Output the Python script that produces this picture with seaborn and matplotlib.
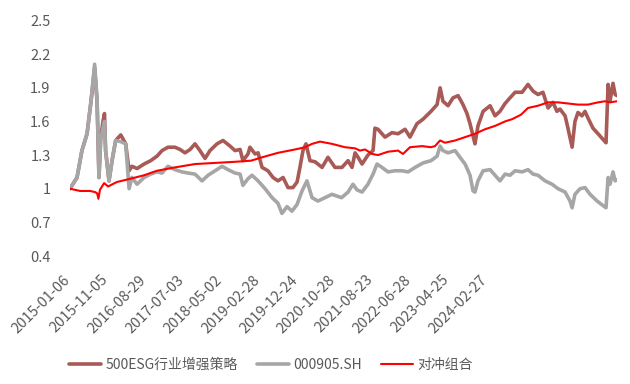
import numpy as np
import pandas as pd
import matplotlib
matplotlib.use("Agg")
import matplotlib.pyplot as plt
import matplotlib.transforms as mtransforms
import seaborn as sns

# trading-day index of each reading, and the net value
esg_day = [0, 37, 63, 90, 111, 130, 143, 153, 162, 174, 182, 188, 206, 222, 241, 268, 294,
           312, 327, 354, 391, 426, 459, 486, 517, 554, 581, 607, 634, 660, 686, 713, 739,
           776, 808, 845, 871, 898, 913, 940, 950, 977, 993, 1014, 1045, 1072, 1098, 1125,
           1151, 1177, 1199, 1214, 1230, 1246, 1267, 1294, 1331, 1362, 1399, 1436, 1468,
           1489, 1505, 1521, 1542, 1573, 1600, 1610, 1626, 1663, 1700, 1732, 1769, 1795,
           1832, 1864, 1906, 1938, 1954, 1969, 1996, 2022, 2049, 2075, 2096, 2112, 2128,
           2138, 2154, 2181, 2218, 2244, 2270, 2297, 2323, 2350, 2387, 2418, 2445, 2471,
           2497, 2524, 2550, 2571, 2587, 2614, 2629, 2651, 2666, 2682, 2703, 2719, 2735,
           2761, 2788, 2814, 2830, 2841, 2851, 2867, 2878, 2888]
esg_val = [1.00, 1.10, 1.34, 1.49, 1.78, 2.08, 1.78, 1.10, 1.45, 1.60, 1.67, 1.34, 1.07,
           1.25, 1.43, 1.48, 1.40, 1.16, 1.20, 1.18, 1.22, 1.25, 1.29, 1.34, 1.37, 1.37,
           1.35, 1.32, 1.35, 1.40, 1.34, 1.27, 1.34, 1.40, 1.43, 1.38, 1.34, 1.35, 1.25,
           1.31, 1.37, 1.31, 1.32, 1.19, 1.16, 1.10, 1.07, 1.10, 1.01, 1.01, 1.06, 1.19,
           1.34, 1.40, 1.25, 1.24, 1.19, 1.28, 1.19, 1.19, 1.25, 1.19, 1.32, 1.28, 1.22,
           1.30, 1.34, 1.54, 1.53, 1.46, 1.50, 1.49, 1.53, 1.46, 1.58, 1.62, 1.69, 1.75,
           1.90, 1.78, 1.74, 1.81, 1.83, 1.75, 1.67, 1.58, 1.47, 1.40, 1.56, 1.69, 1.74,
           1.65, 1.69, 1.76, 1.81, 1.86, 1.86, 1.93, 1.87, 1.84, 1.86, 1.72, 1.77, 1.69,
           1.71, 1.65, 1.54, 1.37, 1.60, 1.68, 1.65, 1.69, 1.63, 1.54, 1.49, 1.44, 1.41,
           1.93, 1.78, 1.94, 1.84, 1.83]

csi_day = [0, 37, 63, 90, 111, 130, 143, 153, 162, 174, 182, 188, 206, 222, 241, 268, 294,
           312, 327, 354, 391, 426, 459, 486, 517, 554, 591, 623, 660, 697, 729, 766, 803,
           834, 871, 898, 913, 940, 961, 993, 1030, 1067, 1098, 1119, 1146, 1172, 1199,
           1225, 1251, 1278, 1309, 1346, 1383, 1434, 1468, 1494, 1515, 1542, 1573, 1600,
           1621, 1647, 1679, 1716, 1753, 1785, 1822, 1864, 1906, 1938, 1954, 1969, 1996,
           2033, 2059, 2086, 2112, 2128, 2138, 2154, 2181, 2218, 2244, 2270, 2297, 2323,
           2350, 2387, 2418, 2445, 2471, 2508, 2545, 2577, 2614, 2640, 2651, 2666, 2693,
           2719, 2746, 2783, 2814, 2830, 2841, 2851, 2867, 2878, 2888]
csi_val = [1.00, 1.10, 1.34, 1.49, 1.78, 2.11, 1.78, 1.10, 1.45, 1.54, 1.60, 1.34, 1.07,
           1.25, 1.43, 1.42, 1.40, 1.00, 1.10, 1.04, 1.10, 1.13, 1.15, 1.14, 1.20, 1.17,
           1.15, 1.14, 1.13, 1.07, 1.12, 1.16, 1.20, 1.17, 1.14, 1.13, 1.03, 1.09, 1.12,
           1.07, 1.00, 0.92, 0.87, 0.78, 0.84, 0.80, 0.86, 0.98, 1.07, 0.92, 0.89, 0.92,
           0.95, 0.92, 0.97, 1.04, 0.99, 0.97, 1.04, 1.13, 1.22, 1.19, 1.15, 1.16, 1.16,
           1.15, 1.19, 1.23, 1.25, 1.29, 1.38, 1.34, 1.32, 1.34, 1.28, 1.22, 1.12, 0.98,
           0.97, 1.07, 1.16, 1.17, 1.12, 1.07, 1.13, 1.12, 1.16, 1.15, 1.17, 1.13, 1.12,
           1.07, 1.04, 1.00, 0.97, 0.89, 0.83, 0.95, 1.00, 1.01, 0.95, 0.89, 0.85, 0.83,
           1.10, 1.04, 1.15, 1.07, 1.08]

hedge_day = [0, 53, 106, 132, 143, 150, 158, 180, 201, 248, 322, 391, 459, 554, 660, 766,
             871, 956, 1014, 1098, 1188, 1241, 1278, 1320, 1383, 1452, 1505, 1531, 1558,
             1595, 1626, 1679, 1732, 1758, 1795, 1859, 1906, 1927, 1954, 1980, 2033, 2086,
             2138, 2191, 2244, 2297, 2334, 2381, 2418, 2471, 2524, 2577, 2629, 2682, 2735,
             2788, 2825, 2851, 2888]
hedge_val = [1.00, 0.98, 0.98, 0.97, 0.96, 0.91, 0.99, 1.05, 1.02, 1.06, 1.09, 1.12, 1.16,
             1.19, 1.22, 1.23, 1.24, 1.25, 1.28, 1.32, 1.35, 1.37, 1.40, 1.42, 1.40, 1.37,
             1.36, 1.34, 1.35, 1.31, 1.30, 1.33, 1.34, 1.31, 1.37, 1.38, 1.37, 1.38, 1.43,
             1.41, 1.43, 1.46, 1.49, 1.53, 1.56, 1.60, 1.62, 1.66, 1.72, 1.74, 1.77, 1.77,
             1.76, 1.75, 1.75, 1.77, 1.78, 1.77, 1.78]

tick_days = [0, 200, 400, 600, 800, 1000, 1200, 1400, 1600, 1800, 2000, 2200]
tick_labels = ["2015-01-06", "2015-11-05", "2016-08-29", "2017-07-03", "2018-05-02",
               "2019-02-28", "2019-12-24", "2020-10-28", "2021-08-23", "2022-06-28",
               "2023-04-25", "2024-02-27"]
y_ticks = [0.4, 0.7, 1.0, 1.3, 1.6, 1.9, 2.2, 2.5]

sns.set_style("white")
plt.rcParams['font.family'] = ['Noto Sans CJK SC', 'DejaVu Sans']

fig = plt.figure(figsize=(6.3, 3.84), dpi=100)
ax = fig.add_axes([70 / 630, 1 - 256 / 384, 547 / 630, 235.5 / 384])

sns.lineplot(x=esg_day, y=esg_val, ax=ax, color="#A85A57", linewidth=2.6,
             label="500ESG行业增强策略")
sns.lineplot(x=csi_day, y=csi_val, ax=ax, color="#A6A6A6", linewidth=2.6,
             label="000905.SH")
sns.lineplot(x=hedge_day, y=hedge_val, ax=ax, color="#FF0000", linewidth=1.5,
             label="对冲组合")

ax.set_xlim(0, 2888)
ax.set_ylim(0.4, 2.5)
ax.set_yticks(y_ticks)
ax.set_yticklabels([f"{v:g}" for v in y_ticks])
ax.set_xticks(tick_days)
ax.set_xticklabels(tick_labels, rotation=45, ha="right", va="top",
                   rotation_mode="anchor")
ax.tick_params(axis="both", length=0, labelsize=10.5, labelcolor="#595959")
ax.tick_params(axis="y", pad=14)
ax.tick_params(axis="x", pad=12)
# shift the date labels a little left, as in the original
shift = mtransforms.ScaledTranslation(-0.07, 0, fig.dpi_scale_trans)
for lab in ax.get_xticklabels():
    lab.set_transform(lab.get_transform() + shift)
ax.set_xlabel("")
ax.set_ylabel("")
for s in ax.spines.values():
    s.set_visible(False)

ax.legend(loc="center", bbox_to_anchor=(271 / 630, 1 - 365 / 384),
          bbox_transform=fig.transFigure, ncol=3, frameon=False,
          fontsize=10, handlelength=2.3, columnspacing=1.4, handletextpad=0.3,
          labelcolor="#595959")

fig.savefig("out.png", dpi=100)
